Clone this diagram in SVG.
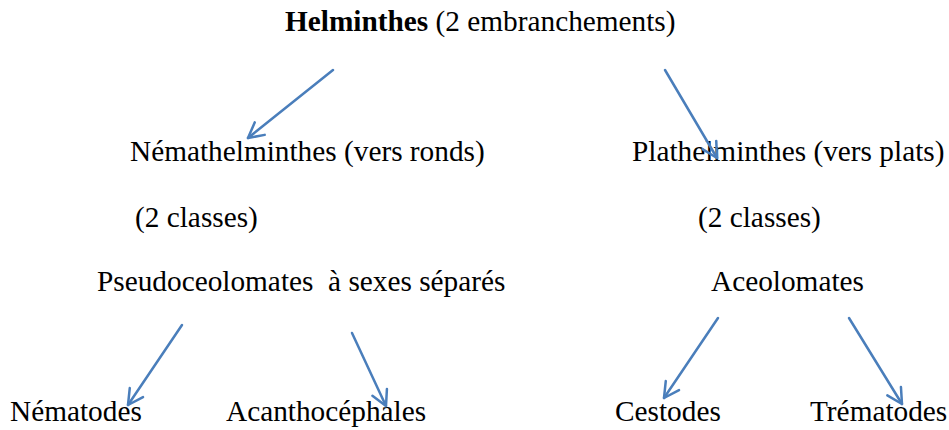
<svg xmlns="http://www.w3.org/2000/svg" width="949" height="430" viewBox="0 0 949 430">
<style>
text{font-family:"Liberation Serif","Times New Roman",serif;font-size:29.3px;fill:#000;white-space:pre}
.b{font-weight:bold}
.c line{stroke:#4a7ebb;stroke-width:2.5;fill:none;stroke-linecap:round}
</style>
<defs>
<marker id="ah" viewBox="0 0 20 20" refX="17" refY="10" markerWidth="20" markerHeight="20" markerUnits="userSpaceOnUse" orient="auto">
<path d="M2,2 L17,10 L2,18" fill="none" stroke="#4a7ebb" stroke-width="2.5" stroke-linecap="round" stroke-linejoin="round"/>
</marker>
</defs>
<rect width="949" height="430" fill="#fff"/>
<g id="helminthes"><text x="285" y="31"><tspan class="b">Helminthes</tspan> (2 embranchements)</text></g>
<g id="nemathelminthes"><text x="130" y="161">Némathelminthes (vers ronds)</text><text x="135" y="227">(2 classes)</text><text x="97" y="291">Pseudoceolomates  à sexes séparés</text></g>
<g id="plathelminthes"><text x="632" y="161">Plathelminthes (vers plats)</text><text x="698" y="227">(2 classes)</text><text x="711" y="291">Aceolomates</text></g>
<g id="nematodes"><text x="10" y="421">Nématodes</text></g>
<g id="acanthocephales"><text x="226" y="421">Acanthocéphales</text></g>
<g id="cestodes"><text x="615" y="421">Cestodes</text></g>
<g id="trematodes"><text x="810" y="421">Trématodes</text></g>
<g id="connectors" class="c">
<line x1="333" y1="70" x2="248" y2="138" marker-end="url(#ah)"/>
<line x1="665" y1="70" x2="717" y2="158" marker-end="url(#ah)"/>
<line x1="182" y1="325" x2="128" y2="405" marker-end="url(#ah)"/>
<line x1="352" y1="333" x2="386" y2="406" marker-end="url(#ah)"/>
<line x1="718" y1="318" x2="664" y2="398" marker-end="url(#ah)"/>
<line x1="849" y1="318" x2="902" y2="404" marker-end="url(#ah)"/>
</g>
</svg>
